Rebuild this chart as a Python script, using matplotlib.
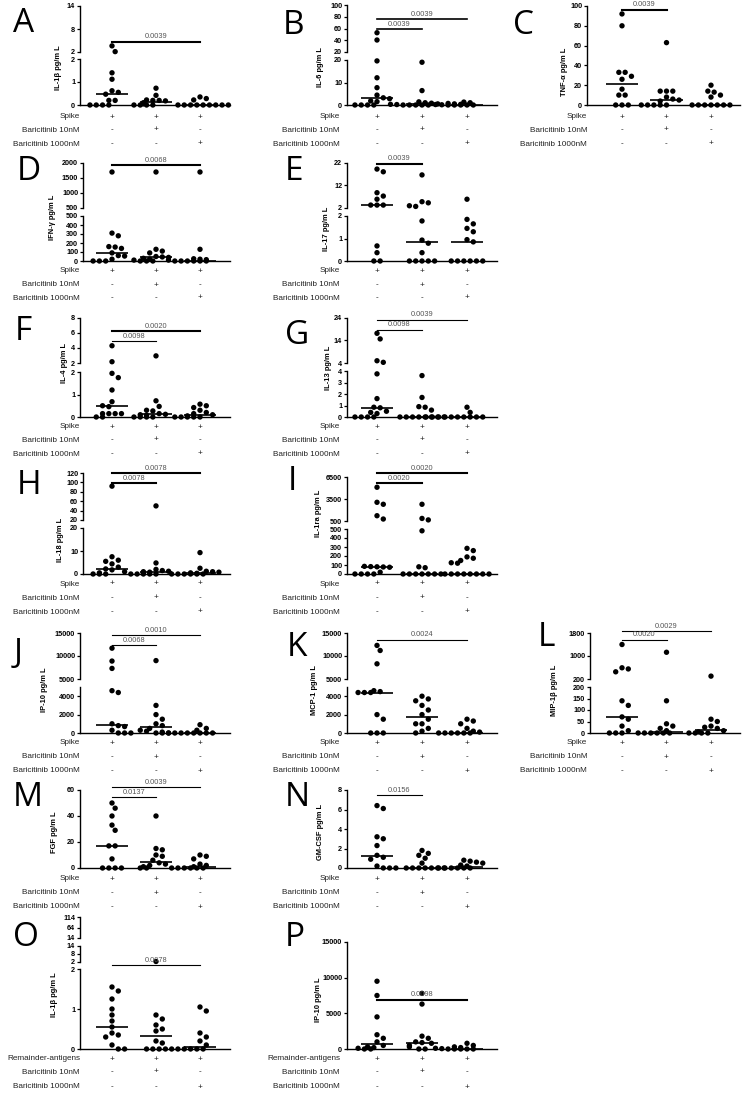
import matplotlib
matplotlib.use("Agg")
import matplotlib.pyplot as plt
import matplotlib.transforms as mtransforms
from matplotlib.lines import Line2D
import numpy as np

W, H = 747, 1104

# ---- data (pg/mL), three groups per panel: spike, +bari 10nM, +bari 1000nM
IL1B_A = [[3.6, 2.1, 1.4, 1.12, 0.62, 0.55, 0.47, 0.2, 0.2, 0, 0, 0, 0],
          [0.73, 0.42, 0.22, 0.2, 0.2, 0.18, 0.1, 0.05, 0, 0, 0, 0],
          [0.35, 0.28, 0.22, 0, 0, 0, 0, 0, 0, 0, 0, 0]]
IL6_B = [[52.8, 40.4, 19.6, 12.1, 7.7, 4.4, 3.2, 2.8, 1.8, 1.5, 0, 0, 0, 0],
         [19.0, 6.4, 1.4, 1.0, 0.8, 0.5, 0.3, 0.2, 0, 0, 0, 0, 0],
         [1.3, 1.0, 0.7, 0.5, 0.3, 0.2, 0.1, 0, 0, 0, 0, 0]]
TNFA_C = [[92, 80, 33, 33, 29, 26, 16, 10, 10, 0, 0, 0],
          [63, 14, 14, 14, 8, 6, 5, 4, 0, 0, 0, 0, 0],
          [20, 14, 13, 10, 8, 0, 0, 0, 0, 0, 0, 0]]
IFNG_D = [[1700, 310, 280, 160, 155, 140, 90, 60, 55, 20, 0, 0, 0],
          [1700, 130, 110, 90, 50, 45, 40, 30, 20, 10, 0, 0, 0],
          [1700, 130, 25, 20, 15, 10, 0, 0, 0, 0, 0, 0]]
IL17_E = [[19.3, 18.1, 8.8, 7.3, 5.9, 3.3, 3.3, 3.3, 0.67, 0.37, 0, 0],
          [16.7, 4.8, 4.3, 3.0, 2.7, 1.78, 0.93, 0.79, 0.37, 0, 0, 0, 0, 0],
          [5.9, 1.85, 1.65, 1.45, 1.3, 0.95, 0.85, 0, 0, 0, 0, 0, 0]]
IL4_F = [[4.3, 2.17, 1.94, 1.75, 1.2, 0.68, 0.5, 0.46, 0.15, 0.15, 0.15, 0.15, 0, 0],
         [2.95, 0.72, 0.47, 0.3, 0.27, 0.15, 0.12, 0.1, 0.08, 0, 0, 0, 0],
         [0.57, 0.5, 0.42, 0.3, 0.2, 0.15, 0.1, 0.05, 0, 0, 0, 0, 0]]
IL13_G = [[17.2, 14.7, 5.0, 4.3, 3.75, 1.6, 0.85, 0.8, 0.5, 0.4, 0.3, 0, 0, 0, 0],
          [3.6, 1.7, 0.9, 0.85, 0.6, 0, 0, 0, 0, 0, 0, 0, 0],
          [0.85, 0.4, 0, 0, 0, 0, 0, 0, 0, 0, 0, 0]]
IL18_H = [[92, 7.5, 6, 5.5, 4.4, 3, 2.2, 1.8, 1, 0.5, 0, 0, 0],
          [50, 4.8, 2, 1.5, 1.2, 1, 0.8, 0.5, 0, 0, 0, 0, 0],
          [9.3, 2.5, 1.2, 1, 0.8, 0.5, 0.3, 0, 0, 0, 0, 0, 0]]
IL1RA_I = [[5100, 3050, 2780, 1220, 770, 85, 82, 80, 78, 75, 20, 0, 0, 0, 0],
           [2780, 850, 650, 480, 80, 70, 0, 0, 0, 0, 0, 0, 0],
           [285, 260, 190, 175, 150, 125, 120, 0, 0, 0, 0, 0, 0, 0, 0]]
IP10_J = [[11700, 8900, 7300, 4600, 4400, 1000, 800, 700, 300, 0, 0, 0],
          [9000, 3000, 2000, 1500, 1000, 800, 500, 300, 200, 0, 0, 0],
          [900, 500, 300, 100, 0, 0, 0, 0, 0, 0, 0, 0]]
MCP1_K = [[12300, 11200, 8300, 4600, 4500, 4400, 4400, 4400, 2000, 1500, 0, 0, 0],
          [4000, 3700, 3500, 3000, 2500, 2000, 1500, 1000, 1000, 500, 200, 0],
          [1500, 1300, 1000, 500, 200, 100, 0, 0, 0, 0, 0, 0]]
MIP1B_L = [[1400, 590, 550, 450, 140, 120, 70, 60, 30, 10, 0, 0, 0],
           [1130, 140, 40, 30, 20, 10, 0, 0, 0, 0, 0, 0],
           [300, 60, 50, 30, 25, 20, 10, 5, 0, 0, 0, 0]]
FGF_M = [[50, 46, 40, 33, 29, 17, 17, 7, 0, 0, 0, 0],
         [40, 15, 14, 10, 9, 6, 4, 3, 2, 1, 0, 0],
         [10, 9, 7, 3, 2, 1, 0, 0, 0, 0, 0, 0]]
GMCSF_N = [[6.4, 6.1, 3.2, 3.0, 2.3, 1.3, 1.1, 0.9, 0.2, 0, 0, 0],
           [1.8, 1.5, 1.3, 1.0, 0.5, 0, 0, 0, 0, 0, 0, 0],
           [0.8, 0.7, 0.6, 0.5, 0.3, 0.2, 0, 0, 0, 0, 0, 0]]
IL1B_O = [[1.55, 1.45, 1.25, 1.0, 0.85, 0.7, 0.55, 0.4, 0.35, 0.3, 0.1, 0, 0],
          [2.4, 0.85, 0.75, 0.6, 0.5, 0.45, 0.2, 0.15, 0, 0, 0, 0],
          [1.05, 0.95, 0.4, 0.3, 0.2, 0.1, 0, 0, 0, 0, 0, 0]]
IP10_P = [[9500, 7500, 4500, 2000, 1500, 1000, 500, 300, 200, 100, 0, 0],
          [7800, 6300, 1800, 1500, 1000, 900, 800, 500, 300, 0, 0],
          [800, 500, 300, 200, 100, 50, 0, 0, 0, 0, 0]]

SPIKE_ROWS = ["Spike", "Baricitinib 10nM", "Baricitinib 1000nM"]
REMAINDER_ROWS = ["Remainder-antigens", "Baricitinib 10nM", "Baricitinib 1000nM"]
SIGNS = [["+", "+", "+"], ["-", "+", "-"], ["-", "-", "+"]]

# ---- layout in pixels (segments bottom -> top: vmin, vmax, y_bottom, y_top, ticks)
COL1 = dict(groups=(112, 155, 200), x_end=230, name_x=80)
COL2 = dict(groups=(377, 421, 467), x_end=497, name_x=340)
COL3 = dict(groups=(622, 666, 711), x_end=740, name_x=587)

PANELS = [
    dict(letter="A", data=IL1B_A, col=COL1, x0=80, ylabel="IL-1β pg/m L", lab=(58, 68), let=(13, 24),
         segs=[(0, 2, 105, 59, [0, 1, 2]), (2, 14, 52, 6, [2, 8, 14])],
         rows=(117, 130, 144), sig=[(0, 2, 42, "0.0039", 1.5)]),
    dict(letter="B", data=IL6_B, col=COL2, x0=347, ylabel="IL-6 pg/m L", lab=(321, 67), let=(283, 26),
         segs=[(0, 20, 105, 60, [0, 10, 20]), (20, 100, 52, 5, [20, 40, 60, 80, 100])],
         rows=(117, 130, 144), sig=[(0, 1, 29, "0.0039", 1.2), (0, 2, 19, "0.0039", 1.2)]),
    dict(letter="C", data=TNFA_C, col=COL3, x0=587, ylabel="TNF-α pg/m L", lab=(565, 72), let=(513, 26),
         segs=[(0, 100, 105, 6, [0, 20, 40, 60, 80, 100])],
         rows=(117, 130, 144), sig=[(0, 1, 10, "0.0039", 1.5)]),
    dict(letter="D", data=IFNG_D, col=COL1, x0=83, ylabel="IFN-γ pg/m L", lab=(53, 217), let=(17, 172),
         segs=[(0, 500, 261, 216, [0, 100, 200, 300, 400, 500]), (500, 2000, 208, 163, [500, 1000, 1500, 2000])],
         rows=(271, 285, 298), sig=[(0, 2, 165, "0.0068", 1.5)]),
    dict(letter="E", data=IL17_E, col=COL2, x0=347, ylabel="IL-17 pg/m L", lab=(326, 229), let=(285, 172),
         segs=[(0, 2, 261, 216, [0, 1, 2]), (2, 22, 208, 163, [2, 12, 22])],
         rows=(271, 285, 298), sig=[(0, 1, 164, "0.0039", 1.5)]),
    dict(letter="F", data=IL4_F, col=COL1, x0=80, ylabel="IL-4 pg/m L", lab=(65, 363), let=(15, 332),
         segs=[(0, 2, 417, 372, [0, 1, 2]), (2, 8, 363, 318, [2, 4, 6, 8])],
         rows=(427, 440, 454), sig=[(0, 1, 341, "0.0098", 0.8), (0, 2, 331, "0.0020", 1.5)]),
    dict(letter="G", data=IL13_G, col=COL2, x0=347, ylabel="IL-13 pg/m L", lab=(328, 368), let=(285, 335),
         segs=[(0, 4, 417, 371, [0, 1, 2, 3, 4]), (4, 24, 363, 318, [4, 14, 24])],
         rows=(427, 440, 454), sig=[(0, 1, 330, "0.0098", 0.8), (0, 2, 320, "0.0039", 0.8)]),
    dict(letter="H", data=IL18_H, col=COL1, x0=83, ylabel="IL-18 pg/m L", lab=(60, 540), let=(17, 486),
         segs=[(0, 20, 574, 528, [0, 10, 20]), (20, 120, 520, 473, [20, 40, 60, 80, 100, 120])],
         rows=(584, 598, 612), sig=[(0, 2, 473, "0.0078", 1.5), (0, 1, 483, "0.0078", 1.5)]),
    dict(letter="I", data=IL1RA_I, col=COL2, x0=347, ylabel="IL-1ra pg/m L", lab=(318, 513), let=(288, 481),
         segs=[(0, 500, 574, 529, [0, 100, 200, 300, 400, 500]), (500, 6500, 521, 477, [500, 3500, 6500])],
         rows=(584, 598, 612), sig=[(0, 2, 473, "0.0020", 1.5), (0, 1, 483, "0.0020", 1.5)]),
    dict(letter="J", data=IP10_J, col=COL1, x0=80, ylabel="IP-10 pg/m L", lab=(45, 690), let=(14, 653),
         segs=[(0, 5000, 733, 687, [0, 2000, 4000]), (5000, 15000, 679, 633, [5000, 10000, 15000])],
         rows=(743, 757, 771), sig=[(0, 1, 645, "0.0068", 0.8), (0, 2, 635, "0.0010", 0.8)]),
    dict(letter="K", data=MCP1_K, col=COL2, x0=347, ylabel="MCP-1 pg/m L", lab=(315, 690), let=(287, 647),
         segs=[(0, 5000, 733, 687, [0, 2000, 4000]), (5000, 15000, 679, 633, [5000, 10000, 15000])],
         rows=(743, 757, 771), sig=[(0, 2, 640, "0.0024", 0.8)]),
    dict(letter="L", data=MIP1B_L, col=COL3, x0=590, ylabel="MIP-1β pg/m L", lab=(555, 690), let=(538, 638),
         segs=[(0, 200, 733, 687, [0, 50, 100, 150, 200]), (200, 1800, 679, 633, [200, 1000, 1800])],
         rows=(743, 757, 771), sig=[(0, 1, 640, "0.0020", 0.8), (0, 2, 631, "0.0029", 0.8)]),
    dict(letter="M", data=FGF_M, col=COL1, x0=80, ylabel="FGF pg/m L", lab=(55, 832), let=(13, 797),
         segs=[(0, 60, 868, 790, [0, 20, 40, 60])],
         rows=(879, 893, 907), sig=[(0, 1, 797, "0.0137", 0.8), (0, 2, 787, "0.0039", 0.8)]),
    dict(letter="N", data=GMCSF_N, col=COL2, x0=347, ylabel="GM-CSF pg/m L", lab=(320, 832), let=(285, 797),
         segs=[(0, 8, 868, 790, [0, 2, 4, 6, 8])],
         rows=(879, 893, 907), sig=[(0, 1, 795, "0.0156", 0.8)]),
    dict(letter="O", data=IL1B_O, col=COL1, x0=80, ylabel="IL-1β pg/m L", lab=(55, 995), let=(13, 938),
         segs=[(0, 2, 1049, 969, [0, 1, 2]), (2, 14, 962, 946, [2, 8, 14]), (14, 114, 938, 917, [14, 64, 114])],
         rows=(1059, 1072, 1087), names=REMAINDER_ROWS, sig=[(0, 2, 965, "0.0078", 0.8)]),
    dict(letter="P", data=IP10_P, col=COL2, x0=347, ylabel="IP-10 pg/m L", lab=(318, 1000), let=(285, 938),
         segs=[(0, 15000, 1049, 942, [0, 5000, 10000, 15000])],
         rows=(1059, 1072, 1087), names=REMAINDER_ROWS, sig=[(0, 2, 1000, "0.0098", 1.5)]),
]

DOT = 6.3  # px between neighbouring dots


def value_to_px(v, segs):
    for i, (vmin, vmax, yb, yt, _) in enumerate(segs):
        if v <= vmax or i == len(segs) - 1:
            return yb - (v - vmin) / (vmax - vmin) * (yb - yt), i


def swarm(ys):
    """Horizontal offsets (px) so that dots do not overlap, GraphPad style."""
    ys = np.asarray(ys, float)
    xs = np.zeros(len(ys))
    done = np.zeros(len(ys), bool)
    placed = []
    for i in np.argsort(ys):
        if done[i]:
            continue
        same = [j for j in range(len(ys)) if not done[j] and abs(ys[j] - ys[i]) < 1.0]
        n = len(same)
        base = (np.arange(n) - (n - 1) / 2.0) * DOT
        for shift in [0, DOT / 2, -DOT / 2, DOT, -DOT, 1.5 * DOT, -1.5 * DOT, 2 * DOT, -2 * DOT]:
            ok = True
            for k, j in enumerate(same):
                for (px, py) in placed:
                    if np.hypot(base[k] + shift - px, ys[j] - py) < DOT * 0.92:
                        ok = False
                        break
                if not ok:
                    break
            if ok:
                break
        for k, j in enumerate(same):
            xs[j] = base[k] + shift
            placed.append((xs[j], ys[j]))
            done[j] = True
    return xs


def draw_panel(fig, p, pxT):
    col = p["col"]
    g = col["groups"]
    sp = (g[2] - g[0]) / 2.0
    x0, x1 = p["x0"], col["x_end"]
    xlim = ((x0 - g[0]) / sp, (x1 - g[0]) / sp)
    axes = []
    for i, (vmin, vmax, yb, yt, ticks) in enumerate(p["segs"]):
        ax = fig.add_axes([x0 / W, 1 - yb / H, (x1 - x0) / W, (yb - yt) / H])
        ax.patch.set_alpha(0)
        ax.spines["top"].set_visible(False)
        ax.spines["right"].set_visible(False)
        ax.spines["bottom"].set_visible(i == 0)
        for s in ax.spines.values():
            s.set_linewidth(1.0)
        ax.set_xticks([])
        ax.set_yticks(ticks)
        ax.set_yticklabels([f"{t:g}" for t in ticks], fontsize=5.2, fontweight="bold",
                           family="Liberation Sans")
        ax.tick_params(axis="y", length=2.5, width=0.9, pad=1)
        ax.set_xlim(*xlim)
        ax.set_ylim(vmin, vmax)
        axes.append(ax)

    for gi, vals in enumerate(p["data"]):
        mapped = [value_to_px(v, p["segs"]) for v in vals]
        offs = swarm([m[0] for m in mapped]) / sp
        for v, (ypx, si), dx in zip(vals, mapped, offs):
            axes[si].scatter(gi + dx, v, s=15, color="black", edgecolors="none",
                             zorder=3, clip_on=False)
        med = float(np.median(vals))
        _, si = value_to_px(med, p["segs"])
        axes[si].plot([gi - 0.36, gi + 0.36], [med, med], color="black", lw=1.2,
                      zorder=4, clip_on=False, solid_capstyle="butt")

    # significance bars
    top = axes[-1]
    bT = mtransforms.blended_transform_factory(top.transData, pxT)
    for a, b, y, txt, lw in p["sig"]:
        fig.add_artist(Line2D([a, b], [y, y], transform=bT, color="black", lw=lw))
        fig.text((a + b) / 2.0, y - 1.5, txt, transform=bT, ha="center", va="bottom",
                 fontsize=5.3, color="#555555", family="Liberation Sans")

    # condition rows under the x axis
    low = axes[0]
    rT = mtransforms.blended_transform_factory(low.transData, pxT)
    names = p.get("names", SPIKE_ROWS)
    for r, (name, y) in enumerate(zip(names, p["rows"])):
        fig.text(col["name_x"], y, name, transform=pxT, ha="right", va="center",
                 fontsize=5.9, family="Liberation Sans", color="#222222")
        for gi in range(3):
            fig.text(gi, y, SIGNS[r][gi], transform=rT, ha="center", va="center",
                     fontsize=5.9, family="Liberation Sans", color="#222222")

    fig.text(p["lab"][0], p["lab"][1], p["ylabel"], transform=pxT, rotation=90,
             ha="center", va="center", fontsize=5.4, fontweight="bold", family="Liberation Sans")
    fig.text(p["let"][0], p["let"][1], p["letter"], transform=pxT, ha="left", va="center",
             fontsize=24, family="Open Sans")


def main():
    fig = plt.figure(figsize=(W / 100, H / 100), dpi=100)
    fig.patch.set_facecolor("white")
    pxT = mtransforms.Affine2D().scale(1.0 / W, -1.0 / H).translate(0, 1) + fig.transFigure
    for p in PANELS:
        draw_panel(fig, p, pxT)
    fig.savefig("out.png", dpi=100, facecolor="white")


if __name__ == "__main__":
    main()
